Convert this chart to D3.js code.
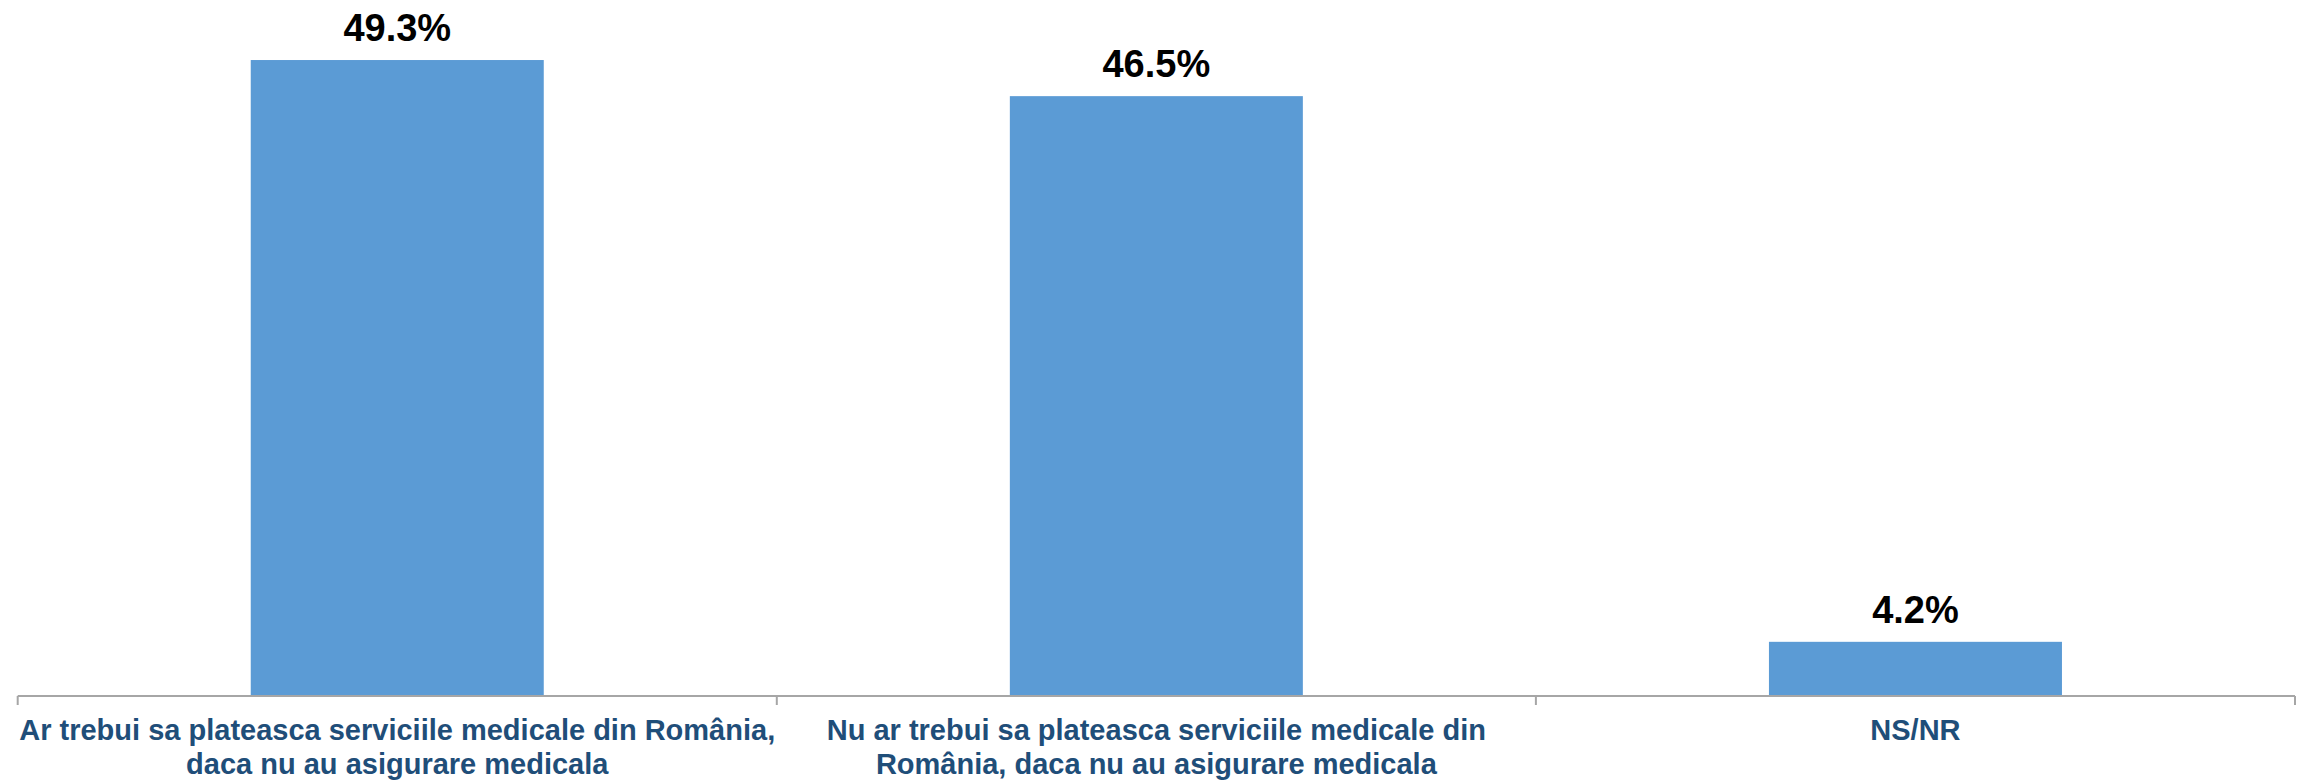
<!DOCTYPE html>
<html>
<head>
<meta charset="utf-8">
<script src="https://cdn.jsdelivr.net/npm/d3@7"></script>
<style>
  body { margin: 0; background: #fff; }
  svg { display: block; font-family: "Liberation Sans", Arial, sans-serif; }
</style>
</head>
<body>
<svg id="chart" width="2307" height="780"></svg>
<script>
// data
var categories = ["cat1", "cat2", "cat3"];
var labelLines = [
    ["Ar trebui sa plateasca serviciile medicale din România,", "daca nu au asigurare medicala"],
    ["Nu ar trebui sa plateasca serviciile medicale din", "România, daca nu au asigurare medicala"],
    ["NS/NR"]
];
var values = [49.3, 46.5, 4.2];

var svg = d3.select("#chart"),
    plotLeft = 17.7, plotRight = 2295, axisY = 696, plotTop = 51;

var x = d3.scaleBand()
    .domain(categories)
    .range([plotLeft, plotRight])
    .paddingInner(0.614)
    .paddingOuter(0.307);

var y = d3.scaleLinear()
    .domain([0, 50])
    .range([axisY, plotTop]);

var step = x.step();

// bars
svg.selectAll("rect.bar")
    .data(values)
    .enter().append("rect")
    .attr("class", "bar")
    .attr("x", function(d, i) { return x(categories[i]); })
    .attr("y", function(d) { return y(d); })
    .attr("width", x.bandwidth())
    .attr("height", function(d) { return y(0) - y(d); })
    .style("fill", "#5B9BD5");

// value labels
svg.selectAll("text.val")
    .data(values)
    .enter().append("text")
    .attr("class", "val")
    .attr("x", function(d, i) { return x(categories[i]) + x.bandwidth() / 2; })
    .attr("y", function(d) { return y(d) - 19; })
    .attr("text-anchor", "middle")
    .style("font-size", "38px")
    .style("font-weight", "bold")
    .style("fill", "#000")
    .text(function(d) { return d.toFixed(1) + "%"; });

// axis line and ticks at category boundaries
svg.append("line")
    .attr("x1", plotLeft).attr("x2", plotRight)
    .attr("y1", axisY).attr("y2", axisY)
    .style("stroke", "#A6A6A6")
    .style("stroke-width", 2);

var bounds = d3.range(categories.length + 1).map(function(i) { return plotLeft + i * step; });
svg.selectAll("line.tick")
    .data(bounds)
    .enter().append("line")
    .attr("class", "tick")
    .attr("x1", function(d) { return d; }).attr("x2", function(d) { return d; })
    .attr("y1", axisY).attr("y2", axisY + 9)
    .style("stroke", "#A6A6A6")
    .style("stroke-width", 2);

// category labels
var cat = svg.selectAll("text.cat")
    .data(labelLines)
    .enter().append("text")
    .attr("class", "cat")
    .attr("text-anchor", "middle")
    .style("font-size", "29px")
    .style("font-weight", "bold")
    .style("fill", "#1F4E79");

cat.selectAll("tspan")
    .data(function(d, i) { return d.map(function(t) { return {t: t, i: i}; }); })
    .enter().append("tspan")
    .attr("x", function(d) { return x(categories[d.i]) + x.bandwidth() / 2; })
    .attr("y", function(d, j) { return 740 + j * 34; })
    .text(function(d) { return d.t; });
</script>
</body>
</html>
